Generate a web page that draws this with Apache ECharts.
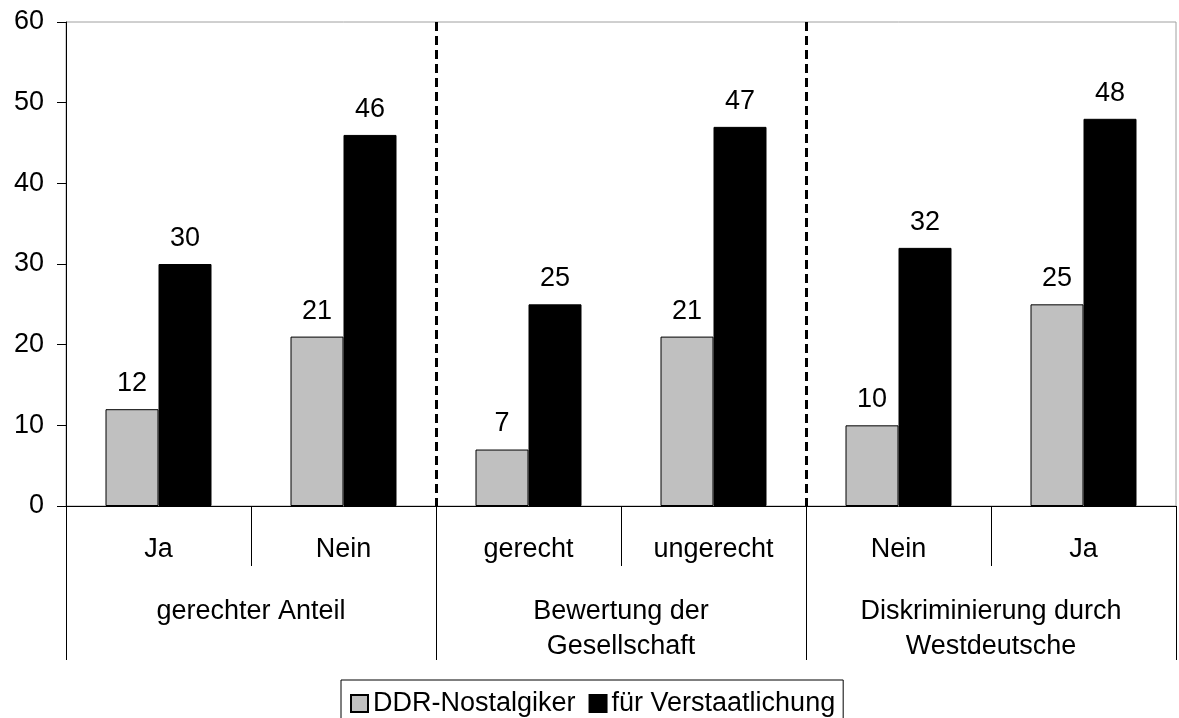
<!DOCTYPE html>
<html>
<head>
<meta charset="utf-8">
<script src="https://cdn.jsdelivr.net/npm/echarts@6/dist/echarts.min.js"></script>
<style>
  html, body { margin: 0; padding: 0; background: #fff; }
  #chart { width: 1179px; height: 718px; }
</style>
</head>
<body>
<div id="chart"></div>
<script>
// Sub-categories (answers) and their groups (questions)
const answers = ['Ja', 'Nein', 'gerecht', 'ungerecht', 'Nein', 'Ja'];
const groups = ['gerechter Anteil', 'Bewertung der\nGesellschaft', 'Diskriminierung durch\nWestdeutsche'];

// Shares in percent
const nostalgiker = [12, 21, 7, 21, 10, 25];
const verstaatlichung = [30, 46, 25, 47, 32, 48];

const yTicks = { min: 0, max: 60, interval: 10 };

const FONT = '"Liberation Sans", Arial, sans-serif';
const FS = 27;

const chart = echarts.init(document.getElementById('chart'), null, { renderer: 'canvas' });

const barLabel = {
  show: true,
  position: 'top',
  distance: 12,
  color: '#000',
  fontFamily: FONT,
  fontSize: FS
};

chart.setOption({
  animation: false,
  backgroundColor: '#fff',
  textStyle: { fontFamily: FONT, color: '#000' },
  grid: {
    left: 66, right: 3, top: 22, bottom: 212,
    show: true, borderColor: '#a0a0a0', borderWidth: 1
  },
  legend: {
    data: ['DDR-Nostalgiker', 'für Verstaatlichung'],
    left: 341, top: 680,
    padding: [10, 8, 12, 9],
    itemGap: 13,
    itemWidth: 17, itemHeight: 17,
    borderColor: '#000', borderWidth: 1,
    icon: 'rect',
    textStyle: { fontFamily: FONT, fontSize: FS, color: '#000' }
  },
  xAxis: [
    {
      type: 'category',
      data: answers,
      position: 'bottom',
      axisLine: { show: true, lineStyle: { color: '#000', width: 1 } },
      axisTick: { show: true, inside: false, length: 60, lineStyle: { color: '#000' } },
      axisLabel: { color: '#000', fontFamily: FONT, fontSize: FS, margin: 29, lineHeight: 30, interval: 0 }
    },
    {
      type: 'category',
      data: groups,
      position: 'bottom',
      gridIndex: 0,
      axisLine: { show: false },
      axisTick: { show: true, length: 154, lineStyle: { color: '#000' } },
      axisLabel: { color: '#000', fontFamily: FONT, fontSize: FS, margin: 88, lineHeight: 35, interval: 0 },
      splitLine: {
        show: true, showMinLine: false, showMaxLine: false,
        lineStyle: { color: '#000', width: 3, type: [9, 5] }
      }
    }
  ],
  yAxis: {
    type: 'value',
    min: yTicks.min, max: yTicks.max, interval: yTicks.interval,
    axisLine: { show: true, lineStyle: { color: '#000', width: 1 } },
    axisTick: { show: true, length: 9, lineStyle: { color: '#000' } },
    axisLabel: { color: '#000', fontFamily: FONT, fontSize: FS, margin: 22 },
    splitLine: { show: false }
  },
  series: [
    {
      name: 'DDR-Nostalgiker',
      type: 'bar',
      xAxisIndex: 0,
      data: nostalgiker,
      barWidth: 53,
      barGap: '0%',
      itemStyle: { color: '#c0c0c0', borderColor: '#000', borderWidth: 1 },
      label: barLabel
    },
    {
      name: 'für Verstaatlichung',
      type: 'bar',
      xAxisIndex: 0,
      data: verstaatlichung,
      barWidth: 53,
      barGap: '0%',
      itemStyle: { color: '#000', borderColor: '#000', borderWidth: 1 },
      label: barLabel
    }
  ]
});
</script>
</body>
</html>
